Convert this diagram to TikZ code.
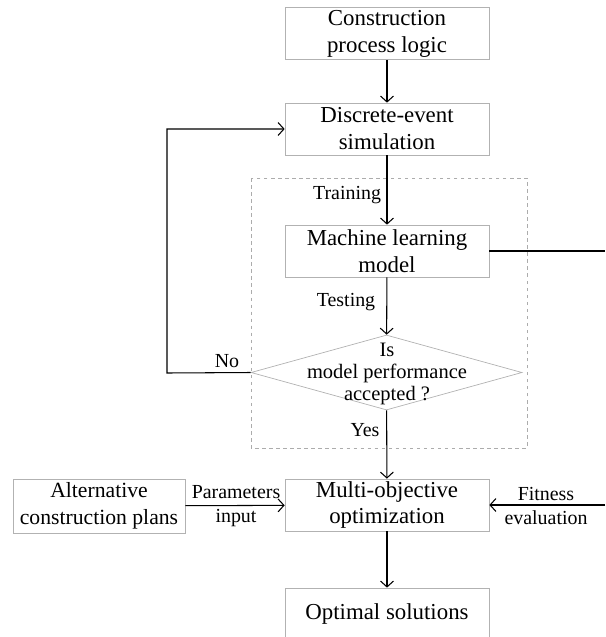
\documentclass[tikz,border=0pt]{standalone}
\usepackage{fontspec}
\setmainfont{Liberation Serif}
\usetikzlibrary{arrows.meta,shapes.geometric}
\newcommand\blockfont{\fontsize{19.5}{23}\selectfont}
\newcommand\notefont{\fontsize{17}{20}\selectfont}

\begin{document}
\begin{tikzpicture}[x=0.03cm,y=-0.03cm,
    box/.style={draw=gray!60,line width=0.6pt,minimum width=6.12cm,minimum height=1.56cm,
      inner sep=0pt,align=center,font=\blockfont},
    decision/.style={diamond,draw=gray!60,line width=0.6pt,minimum width=8.13cm,
      minimum height=2.25cm,inner sep=0pt},
    flow/.style={line width=0.9pt,-{Straight Barb[length=5pt,width=11pt]}},
    note/.style={align=center,font=\notefont}]
    \useasboundingbox (0,0) rectangle (605,637);

    \node[box] (logic) at (387,33.5) {Construction\\process logic};
    \node[box] (sim) at (387,129) {Discrete-event\\simulation};
    \draw[gray!65,dashed,line width=0.6pt] (251,178) rectangle (527,448);
    \node[box] (ml) at (387,251) {Machine learning\\model};
    \node[decision] (check) at (386.5,372.5) {};
    \node[note,font=\fontsize{17.5}{18.5}\selectfont] (checktext) at (387,374)
      {Is\\model performance\\accepted ?};
    \node[box] (moo) at (387,505) {Multi-objective\\optimization};
    \node[box,minimum width=5.16cm,minimum height=1.62cm,font=\fontsize{18.5}{23}\selectfont]
      (alt) at (99,506) {Alternative\\construction plans};
    \node[box] (opt) at (387,614) {Optimal solutions};

    \coordinate (loop) at (167,373);
    \coordinate (mlout) at (605,251);
    \coordinate (fitin) at (605,505);

    \draw[flow] (logic) -- (sim);
    \draw[flow] (sim) -- (ml);
    \node[note] (train) at (347,195) {Training};
    \draw[flow] (ml) -- (check);
    \node[note] (test) at (346,302) {Testing};
    \draw[flow] (check.west) -- (loop) |- (sim);
    \node[note] (no) at (227,361) {No};
    \draw[flow] (check) -- (moo);
    \node[note] (yes) at (365,430) {Yes};
    \draw[flow] (alt) -- (moo);
    \node[note] (param) at (236,506) {Parameters\\input};
    \draw[line width=0.9pt] (ml) -- (mlout);
    \draw[flow] (fitin) -- (moo);
    \node[note] (fit) at (546,506) {Fitness\\evaluation};
    \draw[flow] (moo) -- (opt);
  \end{tikzpicture}
\end{document}
